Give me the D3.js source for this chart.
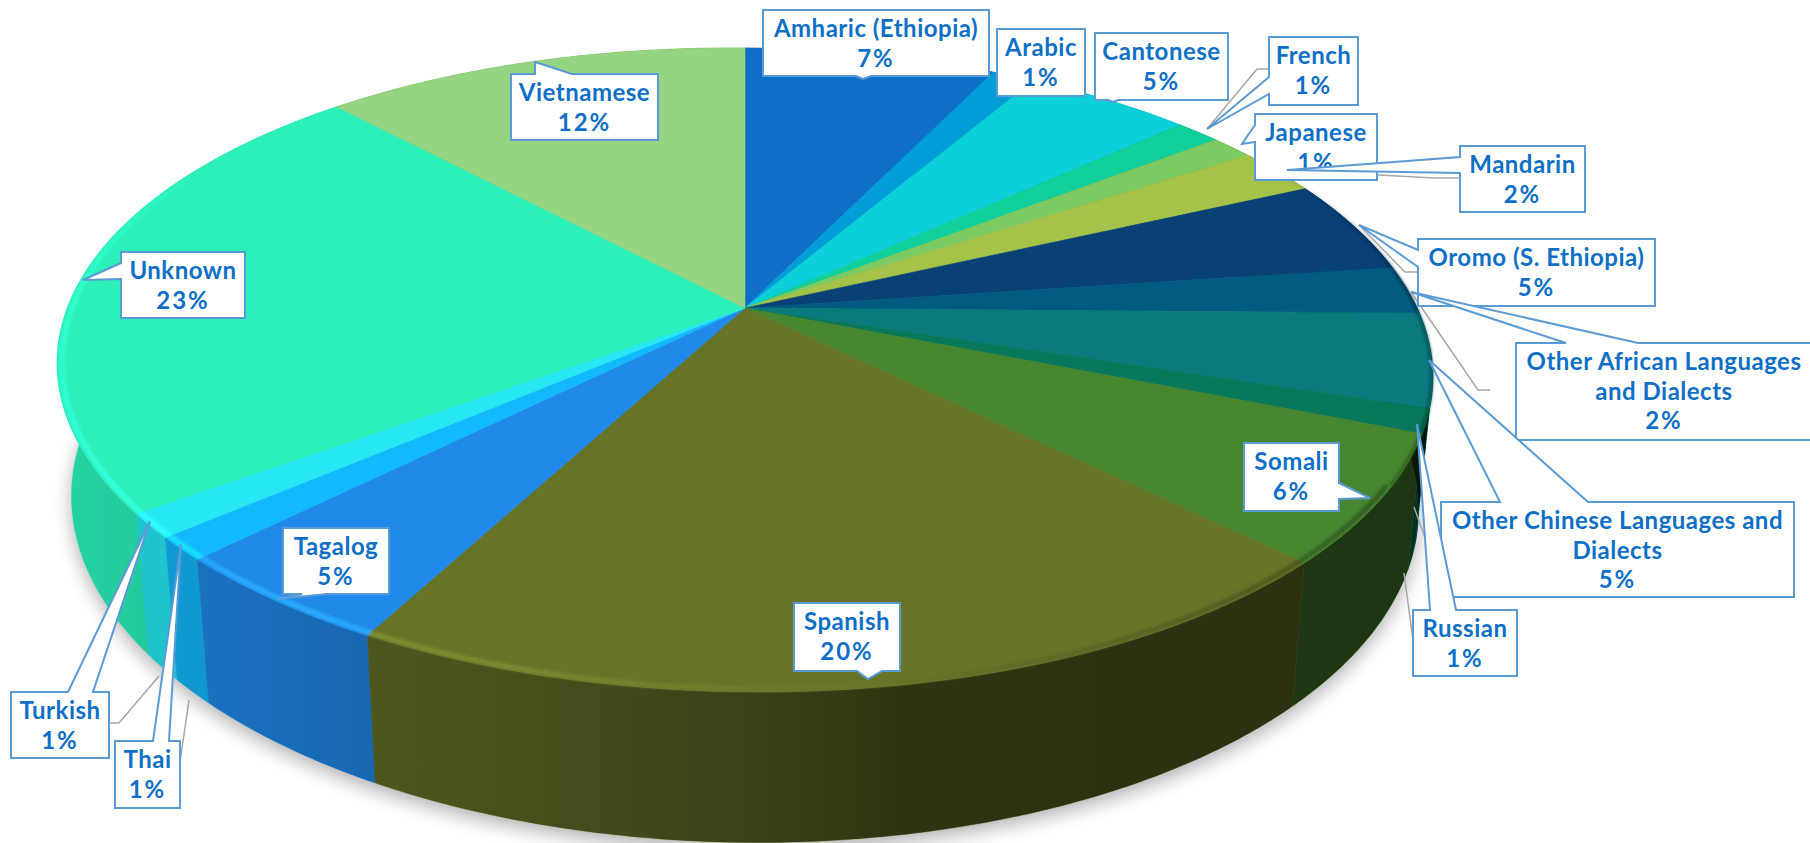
<!DOCTYPE html>
<html>
<head>
<meta charset="utf-8">
<script src="https://cdn.jsdelivr.net/npm/d3@7"></script>
<style>
  html, body { margin: 0; padding: 0; background: #fff; overflow: hidden; }
  svg { display: block; }
  .callout text { font-family: Lato, sans-serif; font-weight: 700; font-size: 24px; fill: #0f6fc6; text-anchor: middle; letter-spacing: 0.5px; }
  .callout text.pct { letter-spacing: 2px; }
</style>
</head>
<body>
<svg width="1810" height="843"></svg>
<script>
const languages = ['Amharic (Ethiopia)', 'Arabic', 'Cantonese', 'French', 'Japanese', 'Mandarin',
  'Oromo (S. Ethiopia)', 'Other African Languages and Dialects', 'Other Chinese Languages and Dialects',
  'Russian', 'Somali', 'Spanish', 'Tagalog', 'Thai', 'Turkish', 'Unknown', 'Vietnamese'];
const shares = [7.1, 1.2, 4.7, 1.25, 1.2, 2.35, 4.7, 2.4, 4.7, 1.2, 6.45, 20.4, 4.65, 1.15, 1.2, 23.2, 12.1];
const sliceColors = ['#0f6fc6', '#009dd9', '#0bd0d9', '#10cf9b', '#7cca62', '#a5c249',
  '#094177', '#015b80', '#0a7a7f', '#08785a', '#46862e', '#667428',
  '#2089ea', '#13b9fd', '#26e8f3', '#2bf0ba', '#95d480'];

// callout layout, same order as languages
const calloutLines = [['Amharic (Ethiopia)'], ['Arabic'], ['Cantonese'], ['French'], ['Japanese'], ['Mandarin'],
  ['Oromo (S. Ethiopia)'], ['Other African Languages', 'and Dialects'], ['Other Chinese Languages and', 'Dialects'],
  ['Russian'], ['Somali'], ['Spanish'], ['Tagalog'], ['Thai'], ['Turkish'], ['Unknown'], ['Vietnamese']];
const calloutBoxes = [
  { box: [763, 10, 989, 76], side: 'bottom', base: [856, 871], tip: [863, 79] },
  { box: [997, 29, 1085, 96] },
  { box: [1095, 33, 1228, 100], side: 'bottom', base: [1108, 1118], tip: [1113, 102] },
  { box: [1269, 37, 1358, 105], side: 'left', base: [77, 94], tip: [1207, 129], leader: [[1269, 69], [1257, 69], [1207, 129]] },
  { box: [1255, 114, 1377, 180], side: 'left', base: [125, 142], tip: [1242, 144] },
  { box: [1460, 146, 1585, 212], side: 'left', base: [157, 173], tip: [1287, 170], leader: [[1460, 178], [1434, 178], [1287, 170]] },
  { box: [1418, 239, 1655, 306], side: 'left', base: [250, 267], tip: [1359, 225], leader: [[1418, 272], [1405, 272], [1359, 225]] },
  { box: [1516, 343, 1816, 440], side: 'top', base: [1566, 1638], tip: [1411, 292], leader: [[1490, 390], [1478, 390], [1411, 292]], textX: 1664 },
  { box: [1441, 502, 1794, 597], side: 'top', base: [1500, 1588], tip: [1429, 360], leader: [[1441, 543], [1427, 543], [1414, 507]] },
  { box: [1413, 610, 1517, 676], side: 'top', base: [1430, 1456], tip: [1417, 424], leader: [[1413, 640], [1404, 573]] },
  { box: [1244, 443, 1339, 511], side: 'right', base: [483, 499], tip: [1370, 498] },
  { box: [794, 603, 900, 671], side: 'bottom', base: [857, 882], tip: [868, 679] },
  { box: [283, 528, 389, 594], side: 'bottom', base: [302, 327], tip: [277, 599] },
  { box: [115, 741, 180, 808], side: 'top', base: [153, 169], tip: [181, 544], leader: [[180, 762], [189, 700]] },
  { box: [11, 692, 109, 758], side: 'top', base: [68, 93], tip: [150, 521], leader: [[109, 723], [119, 723], [159, 676]] },
  { box: [121, 252, 245, 318], side: 'left', base: [263, 279], tip: [83, 280] },
  { box: [511, 74, 658, 140], side: 'top', base: [535, 572], tip: [535, 62] }
];

const svg = d3.select('svg');
const defs = svg.append('defs');

// perspective pie: apex of the slices sits above the centre of the rim ellipse
const apex = [745, 308];
const tilt = 0.1925, skew = 0.01;
const topPlane = { sx: 675, sy: 310, y0: apex[1] };
const basePlane = { sx: 661, sy: 327, y0: 437.5 };

function project(theta, plane, r) {
  const u = Math.sin(theta) * r, v = -Math.cos(theta) * r;
  const w = 1 - tilt * v;
  const dx = plane.sx * u / w;
  return [apex[0] + dx, plane.y0 + plane.sy * v / w + skew * dx];
}
function thetas(a0, a1) {
  return d3.range(a0, a1, 0.01).concat([a1]);
}

const line = d3.line();
const slices = d3.pie().sort(null).value((d) => d)(shares);
const color = (i) => sliceColors[i];
const percent = (v) => Math.round(v) + '%';

// blur filters
const blur = (id, dev) => defs.append('filter').attr('id', id)
  .attr('x', '-10%').attr('y', '-10%').attr('width', '120%').attr('height', '120%')
  .append('feGaussianBlur').attr('stdDeviation', dev);
blur('shadowBlur', 9);
blur('rimBlur', 1.4);

// the wall gets darker towards the right
const wallShade = defs.append('linearGradient').attr('id', 'wallShade')
  .attr('gradientUnits', 'userSpaceOnUse').attr('x1', 55).attr('x2', 1431).attr('y1', 0).attr('y2', 0);
[[55, 0.12], [373, 0.25], [600, 0.35], [800, 0.47], [900, 0.55], [1296, 0.58], [1431, 0.6]].forEach((s) => {
  wallShade.append('stop').attr('offset', (s[0] - 55) / 1376).attr('stop-color', '#000').attr('stop-opacity', s[1]);
});

// drop shadow under the base
svg.append('path')
  .attr('d', line(thetas(0, 2 * Math.PI).map((t) => project(t, basePlane, 1))) + 'Z')
  .attr('transform', 'translate(0,7)')
  .attr('fill', '#000').attr('fill-opacity', 0.3)
  .attr('filter', 'url(#shadowBlur)');

// walls, back to front
const wallPath = (d) => {
  const ts = thetas(d.startAngle, d.endAngle);
  return line(ts.map((t) => project(t, topPlane, 1)).concat(ts.slice().reverse().map((t) => project(t, basePlane, 1)))) + 'Z';
};
const wallOrder = slices.slice().sort((a, b) =>
  Math.cos(b.startAngle / 2 + b.endAngle / 2) - Math.cos(a.startAngle / 2 + a.endAngle / 2));
svg.append('g').selectAll('path').data(wallOrder).enter().append('path')
  .attr('d', wallPath).attr('fill', (d) => color(d.index)).attr('stroke', (d) => color(d.index)).attr('stroke-width', 0.5);
svg.append('g').selectAll('path').data(wallOrder).enter().append('path')
  .attr('d', wallPath).attr('fill', 'url(#wallShade)');

// top face
svg.append('g').selectAll('path').data(slices).enter().append('path')
  .attr('d', (d) => line([apex].concat(thetas(d.startAngle, d.endAngle).map((t) => project(t, topPlane, 1)))) + 'Z')
  .attr('fill', (d) => color(d.index))
  .attr('stroke', (d) => color(d.index)).attr('stroke-width', 0.6);

// bevel along the rim: lit at the front left, dark on the right
const bevel = d3.scaleLinear()
  .domain([60, 110, 135, 170, 195, 215, 240, 270, 300])
  .range([-1.2, -1.2, -0.8, 0, 0.5, 0.7, 0.5, 0.3, 0.2])
  .clamp(true);
const rim = svg.append('g').attr('filter', 'url(#rimBlur)').attr('fill', 'none');
slices.forEach((d) => {
  const ts = thetas(d.startAngle, d.endAngle);
  d3.pairs(ts).forEach((seg) => {
    const t = (seg[0] + seg[1]) / 2;
    const v = -Math.cos(t);
    const vis = Math.max(0, Math.min(1, (v + 0.5) / 0.4));
    if (vis === 0) return;
    const k = bevel(t * 180 / Math.PI);
    const c = k > 0 ? d3.rgb(color(d.index)).brighter(k) : d3.rgb(color(d.index)).darker(-k);
    const thin = t < 2.1; // right side only has a thin dark edge
    const r = thin ? 0.998 : 0.9935;
    rim.append('path')
      .attr('d', line([project(seg[0], topPlane, r), project(seg[1], topPlane, r)]))
      .attr('stroke', c).attr('stroke-width', thin ? 3 : 5).attr('stroke-opacity', vis);
  });
});

// gray leader lines
svg.append('g').selectAll('path')
  .data(calloutBoxes.filter((c) => c.leader)).enter().append('path')
  .attr('d', (c) => line(c.leader))
  .attr('fill', 'none').attr('stroke', '#a6a6a6').attr('stroke-width', 1.5);

// callout outline with the wedge pointing at the slice
function calloutPath(c) {
  const [x0, y0, x1, y1] = c.box;
  const pts = [[x0, y0]];
  if (c.side === 'top') pts.push([c.base[0], y0], c.tip, [c.base[1], y0]);
  pts.push([x1, y0]);
  if (c.side === 'right') pts.push([x1, c.base[0]], c.tip, [x1, c.base[1]]);
  pts.push([x1, y1]);
  if (c.side === 'bottom') pts.push([c.base[1], y1], c.tip, [c.base[0], y1]);
  pts.push([x0, y1]);
  if (c.side === 'left') pts.push([x0, c.base[1]], c.tip, [x0, c.base[0]]);
  return line(pts) + 'Z';
}

const callouts = svg.selectAll('.callout').data(calloutBoxes).enter().append('g').attr('class', 'callout');
callouts.append('path')
  .attr('d', calloutPath)
  .attr('fill', '#fff').attr('stroke', '#5b9bd5').attr('stroke-width', 2);
callouts.each(function (c, i) {
  const rows = calloutLines[i].concat([percent(shares[i])]);
  d3.select(this).selectAll('text').data(rows).enter().append('text')
    .attr('class', (d, j) => (j === rows.length - 1 ? 'pct' : null))
    .attr('x', c.textX || (c.box[0] + c.box[2]) / 2)
    .attr('y', (d, j) => c.box[1] + 27 + j * 29.5)
    .text((d) => d);
});
</script>
</body>
</html>
